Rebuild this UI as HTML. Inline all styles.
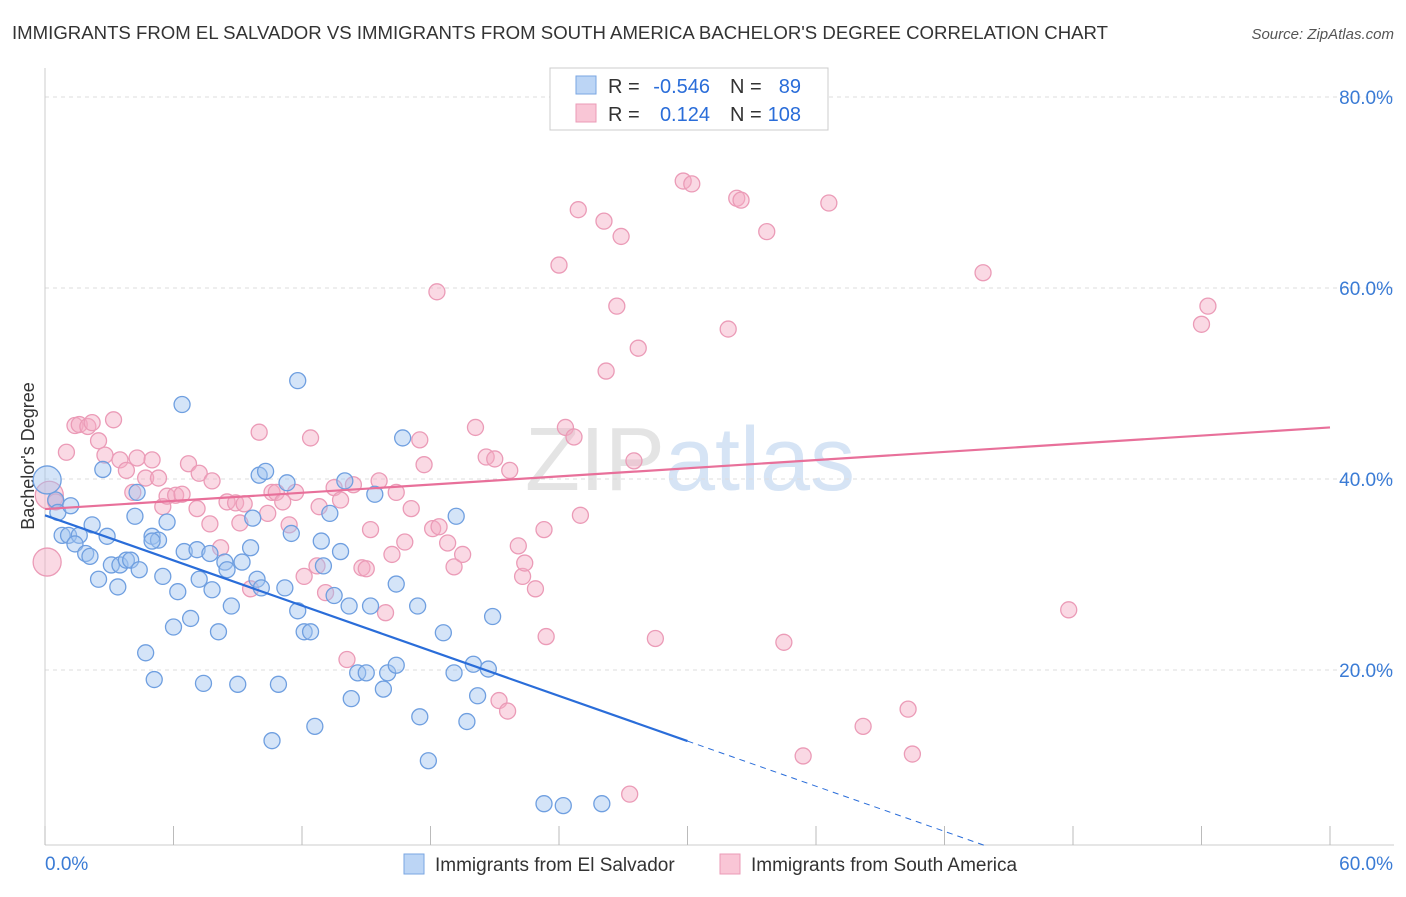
<!DOCTYPE html>
<html><head><meta charset="utf-8"><style>
body{margin:0;background:#fff;font-family:"Liberation Sans",sans-serif;}
svg text{font-family:"Liberation Sans",sans-serif;}
</style></head><body>
<svg id="c" width="1406" height="892">
<text x="12" y="39" font-size="18" fill="#333" textLength="1096" lengthAdjust="spacingAndGlyphs">IMMIGRANTS FROM EL SALVADOR VS IMMIGRANTS FROM SOUTH AMERICA BACHELOR'S DEGREE CORRELATION CHART</text>
<text x="1394" y="39" font-size="15" fill="#555" font-style="italic" text-anchor="end">Source: ZipAtlas.com</text>
<text x="690" y="490" font-size="90" fill="#e4e4e4" text-anchor="middle" font-family="Liberation Serif">ZIP<tspan fill="#d6e4f5" font-family="Liberation Sans">atlas</tspan></text>
<text transform="translate(34,456) rotate(-90)" font-size="18" fill="#333" text-anchor="middle">Bachelor's Degree</text>
<g id="grid"></g><g id="pts"></g><g id="lines"></g>
<g>
<rect x="550" y="68" width="278" height="62" fill="#fff" stroke="#ccc"/>
<rect x="576" y="76" width="20" height="18" fill="#bcd5f5" stroke="#7aa6e2"/>
<rect x="576" y="104" width="20" height="18" fill="#f9c6d6" stroke="#eb9bb7"/>
<text x="608" y="93" font-size="20" fill="#333">R =</text>
<text x="710" y="93" font-size="20" fill="#2a6dd9" text-anchor="end">-0.546</text>
<text x="730" y="93" font-size="20" fill="#333">N =</text>
<text x="801" y="93" font-size="20" fill="#2a6dd9" text-anchor="end">89</text>
<text x="608" y="121" font-size="20" fill="#333">R =</text>
<text x="710" y="121" font-size="20" fill="#2a6dd9" text-anchor="end">0.124</text>
<text x="730" y="121" font-size="20" fill="#333">N =</text>
<text x="801" y="121" font-size="20" fill="#2a6dd9" text-anchor="end">108</text>
</g>
<g>
<rect x="404" y="854" width="20" height="20" fill="#bcd5f5" stroke="#7aa6e2"/>
<text x="435" y="871" font-size="19" fill="#333">Immigrants from El Salvador</text>
<rect x="720" y="854" width="20" height="20" fill="#f9c6d6" stroke="#eb9bb7"/>
<text x="751" y="871" font-size="19" fill="#333">Immigrants from South America</text>
</g>
</svg>
<script>
const blueX=[0.5,0.6,1.2,0.8,1.1,1.6,2.2,1.4,1.9,2.1,2.7,2.9,2.5,3.4,3.1,3.5,3.8,4.0,4.3,4.2,4.4,5.0,5.3,5.7,5.5,6.2,6.5,7.1,6.4,6.0,6.8,7.2,7.7,7.8,8.1,8.4,8.5,8.7,9.2,9.6,9.7,9.9,10.0,10.3,10.1,11.2,11.3,11.5,11.8,11.8,12.1,12.4,12.6,12.9,13.0,13.3,13.5,13.8,14.0,14.2,14.3,14.6,15.0,15.4,15.2,15.8,16.0,16.4,16.4,16.7,17.4,17.5,17.9,18.6,19.2,19.1,19.7,20.0,20.2,20.7,20.9,23.3,24.2,26.0,10.6,10.9,9.0,7.4,5.1,4.7,5.0,0.1];
const blueY=[37.8,36.5,37.2,34.1,34.1,34.1,35.2,33.2,32.2,31.9,41.0,34.0,29.5,28.7,31.0,31.0,31.5,31.5,38.6,36.1,30.5,34.0,33.6,35.5,29.8,28.2,32.4,32.6,47.8,24.5,25.4,29.5,32.2,28.4,24.0,31.3,30.5,26.7,31.3,32.8,35.9,29.5,40.4,40.8,28.6,28.6,39.6,34.3,26.2,50.3,24.0,24.0,14.1,33.5,30.9,36.4,27.8,32.4,39.8,26.7,17.0,19.7,19.7,38.4,26.7,18.0,19.7,29.0,20.5,44.3,26.7,15.1,10.5,23.9,36.1,19.7,14.6,20.6,17.3,20.1,25.6,6.0,5.8,6.0,12.6,18.5,18.5,18.6,19.0,21.8,33.5,39.9];
const pinkX=[0.1,0.2,0.5,1.0,1.4,1.6,2.0,2.2,2.5,2.8,3.2,3.5,3.8,4.1,4.3,4.7,5.0,5.3,5.5,5.7,6.1,6.4,6.7,7.1,7.2,7.8,7.7,8.2,8.5,8.9,9.1,9.3,9.6,10.0,10.4,10.6,10.8,11.1,11.4,11.7,12.1,12.4,12.7,12.8,13.1,13.5,13.8,14.1,14.4,14.8,15.0,15.2,15.6,15.9,16.2,16.4,16.8,17.1,17.5,17.7,18.1,18.4,18.3,18.8,19.1,19.5,20.1,20.6,21.0,21.2,21.6,21.7,22.1,22.3,22.4,22.9,23.3,23.4,24.0,24.3,24.7,24.9,25.0,26.1,26.2,26.7,26.9,27.3,27.5,27.7,28.5,29.8,30.2,31.9,32.3,32.5,33.7,34.5,35.4,36.6,38.2,40.3,40.5,43.8,47.8,54.0,54.3];
const pinkY=[31.3,38.3,37.6,42.8,45.6,45.7,45.5,45.9,44.0,42.5,46.2,42.0,40.9,38.6,42.2,40.1,42.0,40.1,37.1,38.2,38.3,38.4,41.6,36.9,40.6,39.8,35.3,32.8,37.6,37.5,35.4,37.4,28.5,44.9,36.4,38.6,38.6,37.6,35.2,38.6,29.8,44.3,30.9,37.1,28.1,39.1,37.8,21.1,39.4,30.7,30.6,34.7,39.8,26.0,32.1,38.6,33.4,36.9,44.1,41.5,34.8,35.0,59.6,33.3,30.8,32.1,45.4,42.3,42.1,16.8,15.7,40.9,33.0,29.8,31.2,28.5,34.7,23.5,62.4,45.4,44.4,68.2,36.2,67.0,51.3,58.1,65.4,7.0,41.9,53.7,23.3,71.2,70.9,55.7,69.4,69.2,65.9,22.9,11.0,68.9,14.1,15.9,11.2,61.6,26.3,56.2,58.1];
const X=v=>45+v*1285/60, Y=v=>861-v*9.55;
const NS='http://www.w3.org/2000/svg';
function mk(p,t,a){const e=document.createElementNS(NS,t);for(const k in a)e.setAttribute(k,a[k]);p.appendChild(e);return e;}
const grid=document.getElementById('grid');
const yTicks=[20,40,60,80];
yTicks.forEach(v=>{const l=mk(grid,'line',{x1:45,x2:1394,y1:Y(v),y2:Y(v),stroke:'#ddd','stroke-dasharray':'4,4'});


const t=mk(grid,'text',{x:1393,y:Y(v)+7,'font-size':19,fill:'#3a7bd5','text-anchor':'end'});t.textContent=v.toFixed(1)+'%';

});
mk(grid,'line',{x1:45,x2:1394,y1:845,y2:845,stroke:'#ccc'});
mk(grid,'line',{x1:45,x2:45,y1:68,y2:845,stroke:'#ccc'});
for(let i=0;i<=10;i++){mk(grid,'line',{x1:X(i*6),x2:X(i*6),y1:826,y2:845,stroke:'#bbb'});}
const xl=[['0.0%',45,'start'],['60.0%',1393,'end']];
xl.forEach(a=>{const t=mk(grid,'text',{x:a[1],y:870,'font-size':19,fill:'#3a7bd5','text-anchor':a[2]});t.textContent=a[0];

});
const pts=document.getElementById('pts');
pinkX.forEach((x,i)=>{const c=mk(pts,'circle',{cx:X(x),cy:Y(pinkY[i]),r:i<2?14:8,fill:'rgba(245,170,195,0.45)',stroke:'#eb9bb7','stroke-width':1.3});

});
blueX.forEach((x,i)=>{const c=mk(pts,'circle',{cx:X(x),cy:Y(blueY[i]),r:i==blueX.length-1?14:8,fill:'rgba(160,195,240,0.45)',stroke:'#6f9fe0','stroke-width':1.3});

});
const lines=document.getElementById('lines');
const bf=x=>36.2-0.788*x, pf=x=>36.85+0.1425*x;
let l=mk(lines,'line',{x1:X(0),y1:Y(bf(0)),x2:X(30),y2:Y(bf(30)),stroke:'#2a6dd9','stroke-width':2.2});


l=mk(lines,'line',{x1:X(30),y1:Y(bf(30)),x2:X(44),y2:Y(bf(44)),stroke:'#2a6dd9','stroke-width':1,'stroke-dasharray':'6,5'});


l=mk(lines,'line',{x1:X(0),y1:Y(pf(0)),x2:X(60),y2:Y(pf(60)),stroke:'#e8709a','stroke-width':2.2});


</script>
</body></html>
